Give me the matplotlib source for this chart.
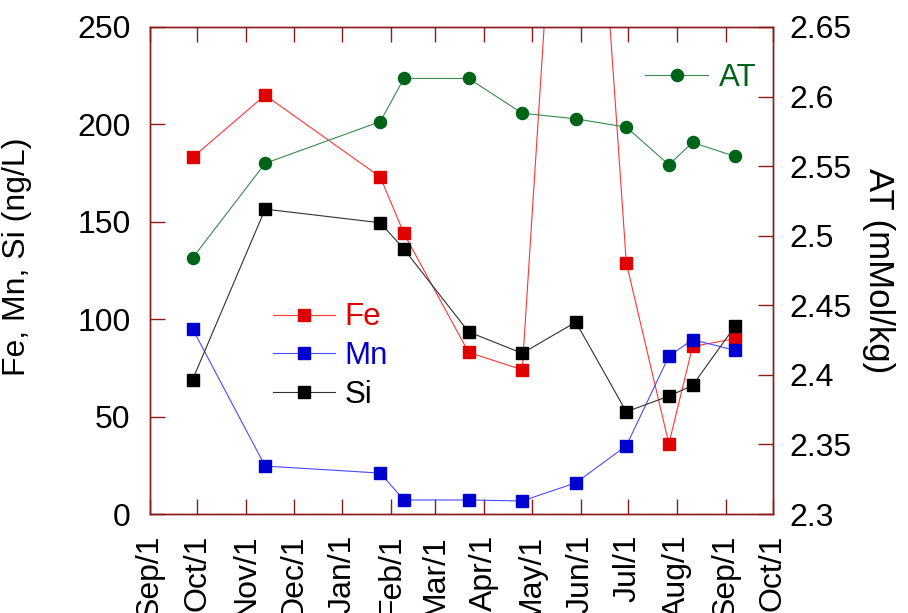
import datetime as dt
import matplotlib
matplotlib.use("Agg")
import matplotlib.pyplot as plt
import matplotlib.dates as mdates
from matplotlib.ticker import FuncFormatter

plt.rcParams['font.family'] = ['Liberation Sans', 'DejaVu Sans']

# sampling dates (year only matters for spacing)
dates = ["2010-09-28", "2010-11-13", "2011-01-25", "2011-02-09", "2011-03-22",
         "2011-04-25", "2011-05-29", "2011-06-30", "2011-07-27", "2011-08-11",
         "2011-09-07"]
fe = [183, 215, 173, 144, 83, 74, 505, 129, 36, 86, 90]
mn = [95, 24.6, 21, 7.2, 7.2, 6.7, 16, 35, 81, 89.5, 84]
si = [69, 156.5, 149.5, 136, 93.5, 82.5, 98.5, 52.5, 60.5, 66, 96.5]
at = [2.484, 2.552, 2.582, 2.613, 2.613, 2.588, 2.584, 2.578, 2.551, 2.567, 2.557]

x = [dt.datetime.strptime(d, "%Y-%m-%d") for d in dates]
frame = '#8B1A1A'

fig = plt.figure(figsize=(9.08, 6.13), dpi=100)
ax = fig.add_axes([0.1652, 0.1615, 0.6861, 0.7945])
ax2 = ax.twinx()

l_fe, = ax.plot(x, fe, color='#FF3535', lw=0.8, marker='s', ms=8.7,
                mfc='#E00000', mec='#E00000', label='Fe')
l_mn, = ax.plot(x, mn, color='#4a4aFF', lw=0.8, marker='s', ms=8.7,
                mfc='#0000D0', mec='#0000D0', label='Mn')
l_si, = ax.plot(x, si, color='#303030', lw=0.8, marker='s', ms=8.7,
                mfc='black', mec='black', label='Si')
l_at, = ax2.plot(x, at, color='#3A8A4E', lw=0.8, marker='o', ms=8.7,
                 mfc='#006418', mec='#006418', label='AT')

ax.set_xlim(dt.datetime(2010, 9, 1), dt.datetime(2011, 10, 1))
ax.set_ylim(0, 250)
ax2.set_ylim(2.3, 2.65)
ax.set_yticks([0, 50, 100, 150, 200, 250])
ax2.set_yticks([2.3, 2.35, 2.4, 2.45, 2.5, 2.55, 2.6, 2.65])
ax2.set_yticklabels(['2.3', '2.35', '2.4', '2.45', '2.5', '2.55', '2.6', '2.65'])

ax.xaxis.set_major_locator(mdates.MonthLocator())
ax.xaxis.set_major_formatter(FuncFormatter(
    lambda v, p: "%s/%d" % (mdates.num2date(v).strftime("%b"), mdates.num2date(v).day)))

for a in (ax, ax2):
    for s in a.spines.values():
        s.set_color(frame)
        s.set_linewidth(1.0)
ax.tick_params(axis='x', direction='in', length=11, width=1, color=frame,
               top=True, labelsize=23, labelrotation=90, pad=15)
ax.tick_params(axis='y', direction='in', length=11, width=1, color=frame,
               labelsize=23, pad=14)
ax2.tick_params(axis='y', direction='in', length=11, width=1, color=frame,
                labelsize=23, pad=12)

ax.set_ylabel('Fe, Mn, Si (ng/L)', fontsize=23)
ax.yaxis.set_label_coords(-0.19, 0.528)
ax2.set_ylabel('AT (mMol/kg)', fontsize=25, rotation=270, va='center')
ax2.yaxis.set_label_coords(1.17, 0.5)

leg1 = ax2.legend([l_fe, l_mn, l_si], ['Fe', 'Mn', 'Si'], loc='center left',
                  bbox_to_anchor=(0.197, 0.324), frameon=False, fontsize=22.5,
                  borderpad=0, borderaxespad=0, handlelength=2.0,
                  handletextpad=0.3, labelspacing=0.28)
for t, c in zip(leg1.get_texts(), ['#E00000', '#0000D0', 'black']):
    t.set_color(c)
ax2.add_artist(leg1)
leg2 = ax2.legend([l_at], ['AT'], loc='center left', bbox_to_anchor=(0.795, 0.895),
                  frameon=False, fontsize=22.5, borderpad=0, borderaxespad=0,
                  handlelength=2.0, handletextpad=0.35)
leg2.get_texts()[0].set_color('#006418')

fig.savefig('out.png', dpi=100)
